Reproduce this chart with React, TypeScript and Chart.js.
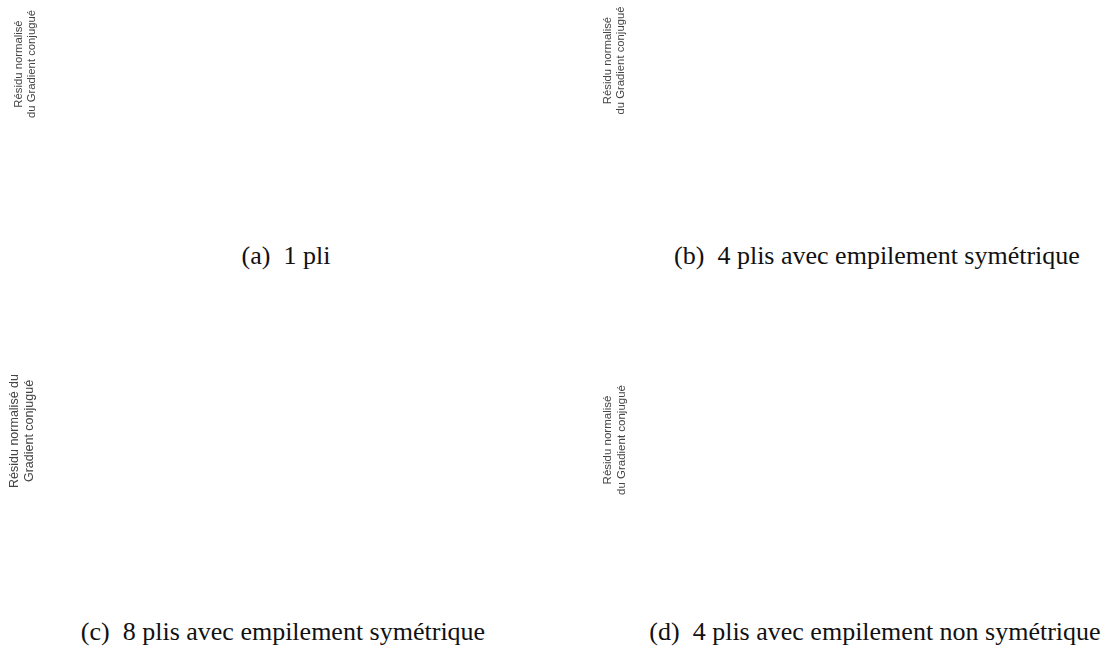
import React, { useEffect, useRef } from "react";
import { Chart, registerables } from "chart.js";

Chart.register(...registerables);

// The reference panels contain no plotted marks: only the y-axis title and caption.
const iterations: number[] = [];
const residual1Pli: number[] = [];
const residual4PlisSym: number[] = [];
const residual8PlisSym: number[] = [];
const residual4PlisNonSym: number[] = [];

const yTitleAB = ["Résidu normalisé", "du Gradient conjugué"];
const yTitleC = ["Résidu normalisé du", "Gradient conjugué"];
const yTitleD = ["Résidu normalisé", "du Gradient conjugué"];

const captions = [
  "(a)\u00a0\u00a01 pli",
  "(b)\u00a0\u00a04 plis avec empilement symétrique",
  "(c)\u00a0\u00a08 plis avec empilement symétrique",
  "(d)\u00a0\u00a04 plis avec empilement non symétrique",
];

type PanelProps = {
  left: number;
  top: number;
  width: number;
  height: number;
  values: number[];
  title: string[];
  fontSize: number;
};

function Panel({ left, top, width, height, values, title, fontSize }: PanelProps) {
  const ref = useRef<HTMLCanvasElement | null>(null);
  useEffect(() => {
    if (!ref.current) return;
    const chart = new Chart(ref.current, {
      type: "line",
      data: {
        labels: iterations,
        datasets: [
          {
            data: values,
            borderColor: "#1f4e9c",
            borderWidth: 1.5,
            pointRadius: 0,
          },
        ],
      },
      options: {
        animation: false,
        responsive: false,
        devicePixelRatio: 1,
        layout: { padding: 0 },
        plugins: { legend: { display: false }, tooltip: { enabled: false } },
        scales: {
          x: { display: false },
          y: {
            display: true,
            grid: { display: false },
            border: { display: false },
            ticks: { display: false },
            title: {
              display: true,
              text: title,
              color: "#444",
              font: { family: "'Liberation Sans', Arial, sans-serif", size: fontSize, lineHeight: 1.2 },
              padding: { top: 4, bottom: 4 },
            },
          },
        },
      },
    });
    return () => chart.destroy();
  }, []);
  return (
    <canvas
      ref={ref}
      width={width}
      height={height}
      style={{ position: "absolute", left, top, width, height }}
    />
  );
}

function Caption({ cx, top, text }: { cx: number; top: number; text: string }) {
  return (
    <div
      style={{
        position: "absolute",
        left: cx - 300,
        width: 600,
        top,
        textAlign: "center",
        fontFamily: "'Liberation Serif', 'Times New Roman', serif",
        fontSize: 26,
        lineHeight: "30px",
        color: "#111",
        whiteSpace: "nowrap",
      }}
    >
      {text}
    </div>
  );
}

export default function App() {
  return (
    <div style={{ position: "absolute", left: 0, top: 0, width: 1107, height: 650, background: "#fff" }}>
      <Panel left={8} top={0} width={540} height={128} values={residual1Pli} title={yTitleAB} fontSize={11.3} />
      <Panel left={597} top={0} width={500} height={121} values={residual4PlisSym} title={yTitleAB} fontSize={11.3} />
      <Panel left={3} top={331} width={540} height={200} values={residual8PlisSym} title={yTitleC} fontSize={12.5} />
      <Panel left={597} top={340} width={500} height={200} values={residual4PlisNonSym} title={yTitleD} fontSize={11.5} />
      <Caption cx={286} top={241} text={captions[0]} />
      <Caption cx={877} top={241} text={captions[1]} />
      <Caption cx={283} top={617} text={captions[2]} />
      <Caption cx={875} top={617} text={captions[3]} />
    </div>
  );
}
